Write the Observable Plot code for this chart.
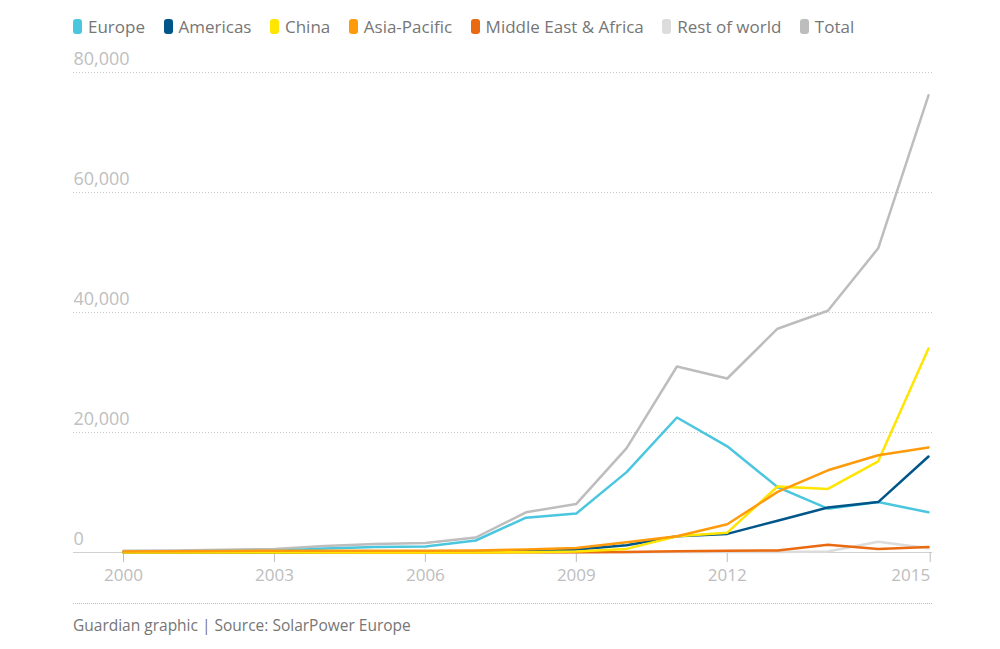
<!DOCTYPE html>
<html>
<head>
<meta charset="utf-8">
<script src="https://cdn.jsdelivr.net/npm/d3@7"></script>
<script src="https://cdn.jsdelivr.net/npm/@observablehq/plot@0.6"></script>
<style>
  html, body { margin: 0; padding: 0; background: #fff; }
  body { width: 1000px; height: 649px; overflow: hidden; font-family: "Open Sans", sans-serif; }
  #legend { height: 45px; display: flex; align-items: center; padding-left: 73px; box-sizing: border-box; padding-top: 8px; }
  .item { display: flex; align-items: center; margin-right: 18.5px; font-size: 17px; color: #767676; }
  .sw { width: 9px; height: 15px; border-radius: 3px; margin-right: 6px; }
  #caption { margin-left: 73px; width: 859px; border-top: 1px dotted #bbb; padding-top: 11px; font-size: 15.5px; line-height: 20px; color: #767676; }
  svg { display: block; }
</style>
</head>
<body>
<div id="legend"></div>
<div id="chart"></div>
<div id="caption">Guardian graphic | Source: SolarPower Europe</div>
<script>
const years = [2000,2001,2002,2003,2004,2005,2006,2007,2008,2009,2010,2011,2012,2013,2014,2015,2016];
const seriesNames = ["Europe","Americas","China","Asia-Pacific","Middle East & Africa","Rest of world","Total"];
const seriesColors = ["#4bc6df","#005689","#ffe500","#ff9b0b","#ea6a12","#dcdcdc","#bdbdbd"];

const europe      = [50,150,250,250,650,900,1000,2000,5800,6500,13400,22500,17700,10900,7300,8400,6700];
const americas    = [30,40,50,60,80,120,150,220,350,500,1200,2700,3100,5300,7500,8400,16000];
const china       = [10,10,20,10,10,10,10,20,40,160,600,2700,3300,11000,10600,15200,34000];
const asiaPacific = [150,200,250,300,300,300,300,350,500,750,1700,2700,4700,10100,13700,16200,17500];
const mea         = [10,10,10,10,10,10,10,20,30,50,100,200,300,350,1300,600,900];
const restOfWorld = [10,10,10,10,10,10,10,10,20,30,50,80,100,100,150,1800,700];
const total       = [300,350,450,600,1100,1400,1600,2500,6700,8100,17400,31000,29000,37300,40300,50700,76200];

const yTicks = [0,20000,40000,60000,80000];
const xTicks = [2000,2003,2006,2009,2012];
const xLastTick = [2015];

// drawing order (last on top)
const drawOrder = [
  ["Total", total],
  ["Rest of world", restOfWorld],
  ["Middle East & Africa", mea],
  ["Europe", europe],
  ["Americas", americas],
  ["China", china],
  ["Asia-Pacific", asiaPacific]
];
const rows = drawOrder.flatMap(([name, vals]) => years.map((yr, i) => ({series: name, year: yr, value: vals[i]})));

// legend
const legend = document.getElementById("legend");
seriesNames.forEach((n, i) => {
  const it = document.createElement("div");
  it.className = "item";
  const sw = document.createElement("div");
  sw.className = "sw";
  sw.style.background = seriesColors[i];
  it.appendChild(sw);
  const t = document.createElement("span");
  t.textContent = n;
  it.appendChild(t);
  legend.appendChild(it);
});

const fmt = d3.format(",");
const chart = Plot.plot({
  width: 1000,
  height: 558,
  marginLeft: 123,
  marginRight: 72,
  marginTop: 27,
  marginBottom: 51,
  style: { fontFamily: "Open Sans, sans-serif", background: "#fff" },
  x: { domain: [2000, 2016], axis: null },
  y: { domain: [0, 80000], axis: null },
  color: { domain: seriesNames, range: seriesColors },
  marks: [
    Plot.ruleY(yTicks.filter(d => d > 0), { stroke: "#c8c8c8", strokeDasharray: "1,2", insetLeft: -50, insetRight: -4 }),
    Plot.ruleY([0], { stroke: "#d0d0d0", insetLeft: -50, insetRight: -4 }),
    Plot.text(yTicks, { y: d => d, frameAnchor: "left", dx: -50, dy: -13, textAnchor: "start", text: d => fmt(d), fill: "#c0c0c0", fontSize: 18 }),
    Plot.axisX({ ticks: xTicks, tickFormat: d => String(d), tickSize: 10, tickPadding: 6, color: "#bdbdbd", fontSize: 17, label: null }),
    Plot.axisX({ ticks: xLastTick, tickFormat: d => String(d), tickSize: 10, tickPadding: 6, color: "#bdbdbd", fontSize: 17, label: null, textAnchor: "end", dx: 52 }),
    Plot.line(rows, { x: "year", y: "value", z: "series", stroke: "series", strokeWidth: 2.5, strokeLinejoin: "round" })
  ]
});
document.getElementById("chart").appendChild(chart);
</script>
</body>
</html>
